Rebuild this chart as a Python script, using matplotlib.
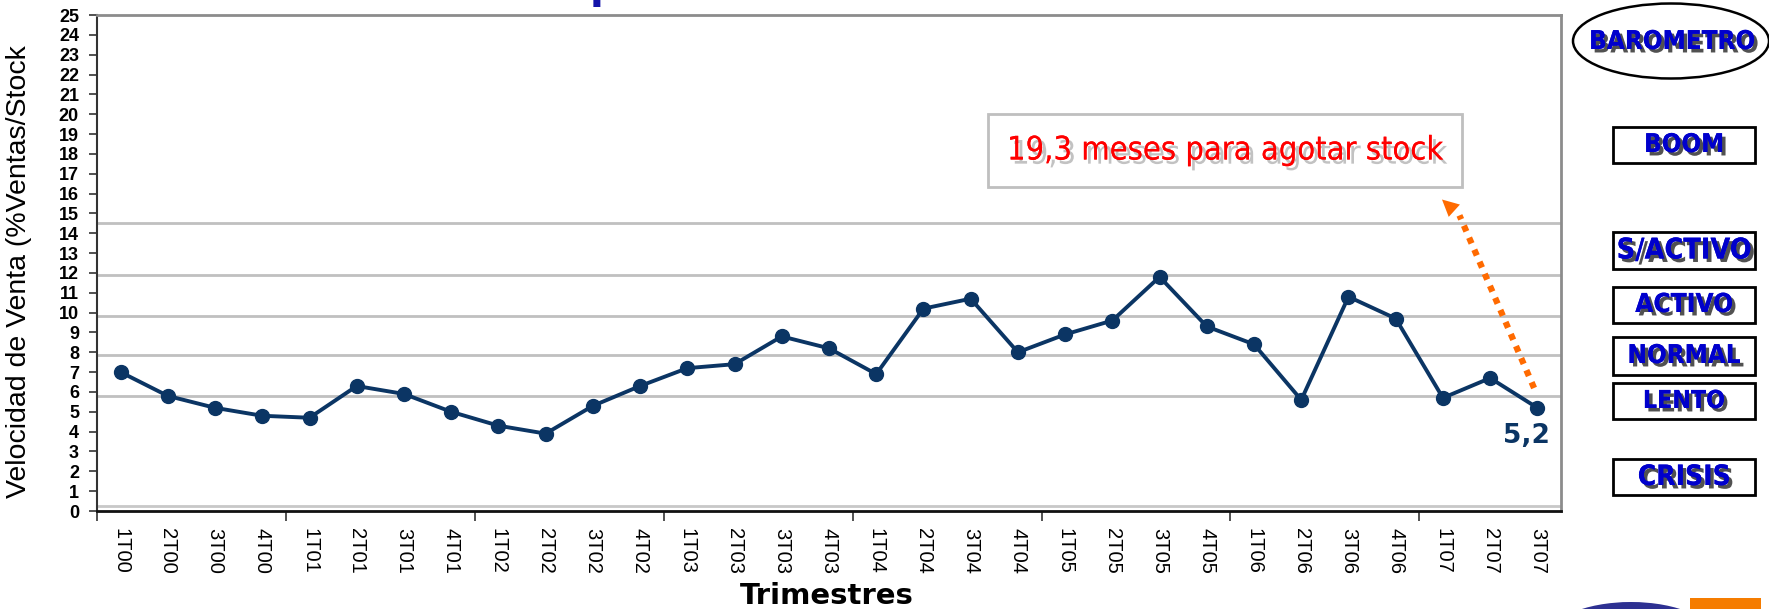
import matplotlib
matplotlib.use("Agg")
import matplotlib.pyplot as plt
from matplotlib import font_manager, patheffects
from matplotlib.font_manager import FontProperties
from matplotlib.patches import Rectangle, Ellipse
import numpy as np

# ---- data -------------------------------------------------------------
trimestres = ["1T00", "2T00", "3T00", "4T00",
              "1T01", "2T01", "3T01", "4T01",
              "1T02", "2T02", "3T02", "4T02",
              "1T03", "2T03", "3T03", "4T03",
              "1T04", "2T04", "3T04", "4T04",
              "1T05", "2T05", "3T05", "4T05",
              "1T06", "2T06", "3T06", "4T06",
              "1T07", "2T07", "3T07"]
velocidad = [7.0, 5.8, 5.2, 4.8,
             4.7, 6.3, 5.9, 5.0,
             4.3, 3.9, 5.3, 6.3,
             7.2, 7.4, 8.8, 8.2,
             6.9, 10.2, 10.7, 8.0,
             8.9, 9.6, 11.8, 9.3,
             8.4, 5.6, 10.8, 9.7,
             5.7, 6.7, 5.2]
umbrales = [14.5, 11.9, 9.85, 7.85, 5.8]
barometro = ["BOOM", "S/ACTIVO", "ACTIVO", "NORMAL", "LENTO", "CRISIS"]
etiqueta_final = "5,2"
meses_stock = "19,3 meses para agotar stock"
yticks = list(range(0, 26))

# ---- fonts ------------------------------------------------------------
ttf = font_manager.fontManager.ttflist
names = {f.name for f in ttf}
sans = "Liberation Sans" if "Liberation Sans" in names else "DejaVu Sans"


def condensed(bold):
    """Return FontProperties of a narrow/condensed face if one is installed."""
    cands = []
    for f in ttf:
        fn = f.fname.lower()
        if ("narrow" in fn or "condensed" in fn) and "oblique" not in fn \
                and "italic" not in fn:
            is_bold = ("bold" in fn) or (isinstance(f.weight, int) and f.weight >= 600) \
                or f.weight == "bold"
            if is_bold == bold:
                pri = 0 if "liberation" in fn else (1 if "dejavu" in fn else 2)
                cands.append((pri, f.fname))
    if cands:
        cands.sort()
        return FontProperties(fname=cands[0][1])
    return FontProperties(family=sans, weight="bold" if bold else "normal")


narrow_reg = condensed(False)
narrow_bold = condensed(True)

W, H = 1769, 609
fig = plt.figure(figsize=(W / 100, H / 100), dpi=100)
fig.patch.set_facecolor("white")


def fx(px):
    return px / W


def fy(py):
    return 1 - py / H


ax = fig.add_axes([fx(97), fy(511), fx(1561) - fx(97), fy(15) - fy(511)])

navy = "#0B3564"
x = np.arange(len(trimestres))

# barometer threshold lines and inner frame bottom
for u in umbrales:
    ax.axhline(u, color="#C0C0C0", lw=2, zorder=1)
ax.axhline(0.25, color="#C8C8C8", lw=2, zorder=1)

ax.plot(x, velocidad, color=navy, lw=2.8, marker="o", ms=10,
        markerfacecolor=navy, markeredgecolor=navy, zorder=3)

ax.set_xlim(-0.5, len(trimestres) - 0.5)
ax.set_ylim(0, 25)

# ticks
ax.set_yticks(yticks)
ax.set_yticklabels([str(t) for t in yticks], fontfamily=sans,
                   fontweight="bold", fontsize=13)
ax.tick_params(axis="y", direction="out", length=6, width=1.2, pad=7,
               color="#333333")

ax.set_xticks(np.arange(-0.5, len(trimestres), 4))
ax.set_xticklabels([])
ax.tick_params(axis="x", which="major", direction="out", length=7,
               width=1.2, color="#333333")
ax.set_xticks(x, minor=True)
ax.set_xticklabels(trimestres, minor=True, rotation=270, fontfamily=sans,
                   fontsize=14.5, va="top", ha="center")
ax.tick_params(axis="x", which="minor", length=0, pad=12)

for side in ("top", "right"):
    ax.spines[side].set_color("#8C8C8C")
    ax.spines[side].set_linewidth(2)
ax.spines["left"].set_color("#333333")
ax.spines["left"].set_linewidth(1.5)
ax.spines["bottom"].set_color("#111111")
ax.spines["bottom"].set_linewidth(2)

# value label on last point
ax.annotate(etiqueta_final, (x[-1], velocidad[-1]), xytext=(-8, -11),
            textcoords="offset points", ha="center", va="top",
            fontsize=19, fontweight="bold", color=navy,
            fontfamily="DejaVu Sans", zorder=5)

# dotted orange arrow towards the stock box
naranja = "#FF6A00"
x0, y0 = x[-1] - 0.07, velocidad[-1] + 1.0
x1, y1 = x[-3] + 0.35, 14.9
ax.plot([x0, x1], [y0, y1], color=naranja, lw=4.5, ls=(0, (1, 1.1)),
        solid_capstyle="butt", dash_capstyle="butt", zorder=4)
ax.annotate("", xy=(x[-3] - 0.02, 15.7), xytext=(x1, y1),
            arrowprops=dict(arrowstyle="-|>", color=naranja, lw=0,
                            mutation_scale=30, shrinkA=0, shrinkB=0),
            zorder=4)

# axis titles
fig.text(fx(827), fy(596), "Trimestres", ha="center", va="center",
         fontfamily="DejaVu Sans", fontweight="bold", fontsize=21)
fig.text(fx(19), fy(272), "Velocidad de Venta (%Ventas/Stock", rotation=90,
         ha="center", va="center", fontfamily=sans, fontsize=20.5)

# chart title (runs above the visible area)
fig.text(fx(590), fy(-2), "p", ha="left", va="baseline", color="#1414AA",
         fontfamily="DejaVu Sans", fontweight="bold", fontsize=29)

# stock box
fig.patches.append(Rectangle((fx(988), fy(187)), fx(1462) - fx(988),
                             fy(114) - fy(187), transform=fig.transFigure,
                             facecolor="white", edgecolor="#BFBFBF", lw=2))
shadow = [patheffects.withSimplePatchShadow(offset=(3, -3),
                                            shadow_rgbFace="#9A9A9A",
                                            alpha=0.6),
          patheffects.Normal()]
txt_stock = fig.text(fx(1225), fy(151), meses_stock, ha="center", va="center",
                     color="#FF0000", fontproperties=narrow_reg,
                     path_effects=shadow)
txt_stock.set_fontsize(28)

# barometer legend on the right
azul = "#0000CC"
shadow_b = [patheffects.withSimplePatchShadow(offset=(2.5, -2.5),
                                              shadow_rgbFace="#333333",
                                              alpha=0.85),
            patheffects.Normal()]
fig.patches.append(Ellipse((fx(1671), fy(41)), fx(196), 75 / H,
                           transform=fig.transFigure, facecolor="white",
                           edgecolor="black", lw=1.8))
bar_texts = [fig.text(fx(1672), fy(42), "BAROMETRO", ha="center", va="center",
                      color=azul, fontproperties=narrow_bold,
                      path_effects=shadow_b)]
anchos = [166]

cajas_top = [127, 232, 287, 337, 383, 459]
cajas_bot = [163, 269, 323, 375, 419, 495]
anchos_caja = [80, 135, 98, 113, 82, 93]
for nombre, t, b, a in zip(barometro, cajas_top, cajas_bot, anchos_caja):
    fig.patches.append(Rectangle((fx(1613), fy(b)), fx(142), (b - t) / H,
                                 transform=fig.transFigure,
                                 facecolor="white", edgecolor="black", lw=2))
    bar_texts.append(fig.text(fx(1684), fy((t + b) / 2), nombre, ha="center",
                              va="center", color=azul,
                              fontproperties=narrow_bold,
                              path_effects=shadow_b))
    anchos.append(a)

# size the boxed labels to their boxes
for tx in bar_texts:
    tx.set_fontsize(20)
fig.canvas.draw()
r = fig.canvas.get_renderer()
w = txt_stock.get_window_extent(r).width
txt_stock.set_fontsize(min(40, 28 * 436 / w))
for tx, a in zip(bar_texts, anchos):
    w = tx.get_window_extent(r).width
    tx.set_fontsize(min(26, 20 * a / w))

# logo pieces along the bottom edge
fig.patches.append(Ellipse((fx(1631), fy(640)), fx(170), 76 / H,
                           transform=fig.transFigure, facecolor="#2E3192",
                           edgecolor="none"))
fig.patches.append(Rectangle((fx(1690), fy(612)), fx(71), 14 / H,
                             transform=fig.transFigure, facecolor="#F57C00",
                             edgecolor="none"))

fig.savefig("out.png", dpi=100, facecolor="white")
